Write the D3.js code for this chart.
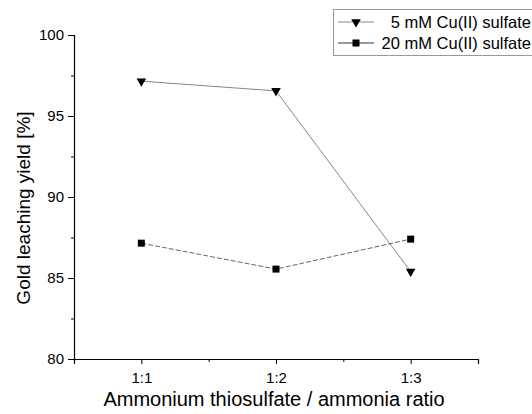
<!DOCTYPE html>
<html>
<head>
<meta charset="utf-8">
<script src="https://cdn.jsdelivr.net/npm/d3@7"></script>
<style>
  body { margin: 0; background: #fff; }
  text { font-family: "Liberation Sans", Arial, sans-serif; fill: #000; }
</style>
</head>
<body>
<div id="chart"></div>
<script>
var ratios = ['1:1', '1:2', '1:3'];
var cu5 = [97.15, 96.55, 85.4];
var cu20 = [87.15, 85.55, 87.4];
var yTicks = [80, 85, 90, 95, 100];
var yMinor = [82.5, 87.5, 92.5, 97.5];
var xMinor = [0.5, 1.5, 2.5, 3.5];
var seriesNames = ['5 mM Cu(II) sulfate', '20 mM Cu(II) sulfate'];

var width = 532, height = 414;
var svg = d3.select('#chart').append('svg')
    .attr('width', width)
    .attr('height', height);

var x = d3.scaleLinear().domain([0.5, 3.5]).range([74, 478]);
var y = d3.scaleLinear().domain([80, 100]).range([359, 35]);

/* axes */
var yAxis = d3.axisLeft(y).tickValues(yTicks).tickSize(6).tickPadding(4).tickFormat(d3.format('d'));
var gy = svg.append('g').attr('transform', 'translate(' + x(0.5) + ',0)').call(yAxis);
gy.select('.domain').attr('stroke', '#000').attr('stroke-width', 1.2);
gy.selectAll('.tick text').style('font-size', '15px');

svg.append('g').attr('transform', 'translate(' + x(0.5) + ',0)')
    .call(d3.axisLeft(y).tickValues(yMinor).tickSize(3).tickFormat(''))
    .select('.domain').remove();

var xAxis = d3.axisBottom(x).tickValues([1, 2, 3]).tickSize(5).tickPadding(8)
    .tickFormat(function(d) { return ratios[d - 1]; });
var gx = svg.append('g').attr('transform', 'translate(0,' + y(80) + ')').call(xAxis);
gx.select('.domain').attr('stroke', '#000').attr('stroke-width', 1.2);
gx.selectAll('.tick text').style('font-size', '15px');

svg.append('g').attr('transform', 'translate(0,' + y(80) + ')')
    .call(d3.axisBottom(x).tickValues(xMinor).tickSize(3).tickFormat(''))
    .select('.domain').remove();

svg.append('text')
    .attr('x', 274)
    .attr('y', 406)
    .attr('text-anchor', 'middle')
    .style('font-size', '20px')
    .text('Ammonium thiosulfate / ammonia ratio');

svg.append('text')
    .attr('transform', 'translate(30,208) rotate(-90)')
    .attr('text-anchor', 'middle')
    .style('font-size', '19px')
    .text('Gold leaching yield [%]');

/* lines */
var line = d3.line()
    .x(function(d, i) { return x(i + 1); })
    .y(function(d) { return y(d); });

svg.append('path').datum(cu5)
    .attr('d', line)
    .attr('fill', 'none')
    .attr('stroke', '#777')
    .attr('stroke-width', 0.9);

svg.append('path').datum(cu20)
    .attr('d', line)
    .attr('fill', 'none')
    .attr('stroke', '#555')
    .attr('stroke-width', 0.9)
    .attr('stroke-dasharray', '5,2');

var tri = d3.symbol().type(d3.symbolTriangle).size(40);
var sq = d3.symbol().type(d3.symbolSquare).size(49);

svg.append('g').selectAll('path')
    .data(cu5)
    .enter().append('path')
    .attr('d', tri)
    .attr('transform', function(d, i) { return 'translate(' + x(i + 1) + ',' + y(d) + ') rotate(180)'; })
    .attr('fill', '#000');

svg.append('g').selectAll('path')
    .data(cu20)
    .enter().append('path')
    .attr('d', sq)
    .attr('transform', function(d, i) { return 'translate(' + x(i + 1) + ',' + y(d) + ')'; })
    .attr('fill', '#000');

/* legend */
var legend = svg.append('g');
legend.append('rect')
    .attr('x', 333.5).attr('y', 9.5)
    .attr('width', 210).attr('height', 46)
    .attr('fill', '#fff')
    .attr('stroke', '#999');

var rows = legend.selectAll('.row')
    .data(seriesNames)
    .enter().append('g')
    .attr('class', 'row')
    .attr('transform', function(d, i) { return 'translate(0,' + (22 + i * 21) + ')'; });

rows.append('line')
    .attr('x1', 338).attr('x2', 374)
    .attr('stroke', function(d, i) { return i === 0 ? '#888' : '#333'; })
    .attr('stroke-width', 1);

rows.append('path')
    .attr('d', function(d, i) { return i === 0 ? tri() : sq(); })
    .attr('transform', function(d, i) { return 'translate(356,0)' + (i === 0 ? ' rotate(180)' : ''); })
    .attr('fill', '#000');

rows.append('text')
    .attr('x', 531)
    .attr('y', 6)
    .attr('text-anchor', 'end')
    .style('font-size', '16.5px')
    .text(function(d) { return d; });
</script>
</body>
</html>
